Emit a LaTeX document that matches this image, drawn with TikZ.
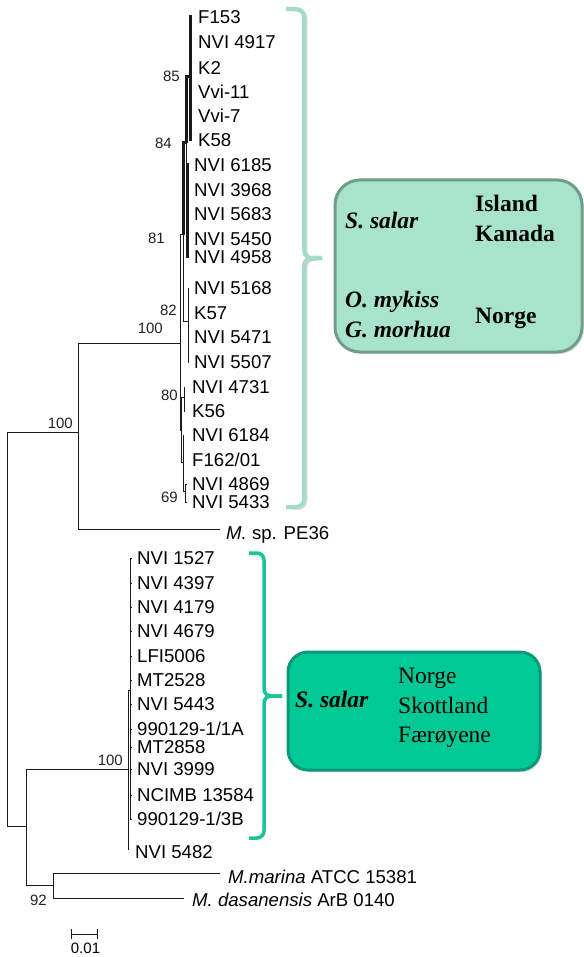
\documentclass[tikz,border=0pt]{standalone}
\usepackage{fontspec}
\setmainfont{Liberation Serif}
\newfontfamily\arialf{Liberation Sans}
\usetikzlibrary{shadows}
\definecolor{treeline}{HTML}{1A1A1A}
\definecolor{bstext}{HTML}{222222}
\definecolor{mintfill}{HTML}{A8E3CB}
\definecolor{mintdraw}{HTML}{6E9E88}
\definecolor{mintbr}{HTML}{A3DCC5}
\definecolor{tealfill}{HTML}{00C996}
\definecolor{tealdraw}{HTML}{0E977A}
\definecolor{tealbr}{HTML}{17C597}
\begin{document}
\begin{tikzpicture}[x=1pt,y=-1pt,
  br/.style={draw=treeline,line width=1pt},
  thickbr/.style={draw=treeline,line width=3pt},
  leaf/.style={anchor=west,inner sep=0pt,font=\arialf\fontsize{18.6}{20}\selectfont,text height=13.3pt,text depth=0pt},
  boot/.style={anchor=east,inner sep=0pt,text=bstext,font=\arialf\fontsize{15}{17}\selectfont,text height=10.7pt,text depth=0pt},
  boxtxt/.style={anchor=base west,inner sep=0pt,font=\fontsize{23.5}{28}\selectfont},
  bracketA/.style={draw=mintbr,line width=4pt,rounded corners=8pt},
  bracketB/.style={draw=tealbr,line width=3.5pt,rounded corners=7pt},
  brshadow/.style={draw=black,opacity=0.15,line width=4pt,rounded corners=8pt},
  boxA/.style={draw=mintdraw,fill=mintfill,line width=3pt,rounded corners=25pt,
     drop shadow={opacity=0.25,shadow xshift=2pt,shadow yshift=-2pt}},
  boxB/.style={draw=tealdraw,fill=tealfill,line width=3pt,rounded corners=20pt,
     drop shadow={opacity=0.25,shadow xshift=2pt,shadow yshift=-2pt}}
]
\useasboundingbox (0,0) rectangle (583,957);

% ---------- internal nodes ----------
\coordinate (root) at (7.5,629);
\coordinate (nA) at (78,432);
\coordinate (nB) at (26,826);
\coordinate (nTop) at (180,343);
\coordinate (tPE) at (220,529);
\coordinate (nBot) at (128,769);
\coordinate (n92) at (53,885);
\coordinate (tMar) at (220,873);
\coordinate (tDas) at (184,898);
\coordinate (n81) at (183,235);
\coordinate (n84) at (186.5,143);
\coordinate (n85) at (190.5,77);
\coordinate (nG) at (187.5,212);
\coordinate (n82) at (188,321);
\coordinate (nX) at (181,430);
\coordinate (n80) at (184,397);
\coordinate (nY) at (183,462);
\coordinate (n69) at (185.5,491);
\coordinate (nSub) at (130.5,690);

% ---------- backbone ----------
\draw[br] (root) |- (nA);
\draw[br] (root) |- (nB);
\draw[br] (nA) |- (nTop);
\draw[br] (nA) |- (tPE);
\draw[br] (nB) |- (nBot);
\draw[br] (nB) |- (n92);
\draw[br] (n92) |- (tMar);
\draw[br] (n92) |- (tDas);
\draw[br] (nTop) |- (n81);
\draw[br] (nTop) |- (nX);
\draw[thickbr] (n81) |- (n84);
\draw[br] (n81) |- (n82);
\draw[thickbr] (n84) |- (n85);
\draw[br] (n84) |- (nG);
\draw[br] (nX) |- (n80);
\draw[br] (nX) |- (nY);
\draw[br] (nY) |- (n69);
\draw[br] (nBot) |- (nSub);

% ---------- leaves ----------
\foreach \n/\y/\t in {a1/17/F153, a2/42/NVI 4917, a3/68/K2, a4/92/Vvi-11, a5/116/Vvi-7, a6/140/K58}{
  \coordinate (\n) at (191.5,\y);
  \draw[thickbr] (n85) |- (\n);
  \node[leaf] (L\n) at (198,\y) {\t};
}
\foreach \n/\y/\t in {b1/165/NVI 6185, b2/190/NVI 3968, b3/214/NVI 5683, b4/239/NVI 5450, b5/257/NVI 4958}{
  \coordinate (\n) at (188.5,\y);
  \draw[thickbr] (nG) |- (\n);
  \node[leaf] (L\n) at (194,\y) {\t};
}
\foreach \n/\y/\t in {c1/288/NVI 5168, c2/313/K57, c3/337/NVI 5471, c4/362/NVI 5507}{
  \coordinate (\n) at (189,\y);
  \draw[br] (n82) |- (\n);
  \node[leaf] (L\n) at (194,\y) {\t};
}
\foreach \n/\y/\t in {d1/387/NVI 4731, d2/411/K56}{
  \coordinate (\n) at (185,\y);
  \draw[br] (n80) |- (\n);
  \node[leaf] (L\n) at (192,\y) {\t};
}
\foreach \n/\y/\t in {e1/435/NVI 6184, e2/460/{F162/01}}{
  \coordinate (\n) at (184,\y);
  \draw[br] (nY) |- (\n);
  \node[leaf] (L\n) at (192,\y) {\t};
}
\foreach \n/\y/\t in {f1/484/NVI 4869, f2/502/NVI 5433}{
  \coordinate (\n) at (186.5,\y);
  \draw[br] (n69) |- (\n);
  \node[leaf] (L\n) at (192,\y) {\t};
}
\foreach \n/\y/\t in {g1/558/NVI 1527, g2/583/NVI 4397, g3/607/NVI 4179, g4/631/NVI 4679,
  g5/656/LFI5006, g6/680/MT2528, g7/704/NVI 5443, g8/729/{990129-1/1A}, g9/747/MT2858,
  g10/769/NVI 3999, g11/795/NCIMB 13584, g12/819/{990129-1/3B}}{
  \coordinate (\n) at (131.5,\y);
  \draw[br] (nSub) |- (\n);
  \node[leaf] (L\n) at (137,\y) {\t};
}
\coordinate (h1) at (129,849);
\draw[br] (nBot) |- (h1);
\node[leaf] (Lh1) at (135,852) {NVI 5482};

\node[leaf] (LPE) at (226,533) {\textit{M.} sp. PE36};
\node[leaf] (LMar) at (228,877) {\textit{M.marina} ATCC 15381};
\node[leaf] (LDas) at (192,900) {\textit{M. dasanensis} ArB 0140};

% ---------- bootstrap values ----------
\node[boot] (b85) at (180,76) {85};
\node[boot] (b84) at (172,143) {84};
\node[boot] (b81) at (165,238) {81};
\node[boot] (b82) at (177,310) {82};
\node[boot] (b100i) at (163,328) {100};
\node[boot] (b80) at (178,395) {80};
\node[boot] (b69) at (178,497) {69};
\node[boot] (b100o) at (73,423) {100};
\node[boot] (b100b) at (123,760) {100};
\node[boot] (b92) at (47,900) {92};

% ---------- scale bar ----------
\coordinate (sb1) at (71,934);
\coordinate (sb2) at (97,934);
\draw[br] (sb1) -- (sb2);
\draw[br] ([yshift=5pt]sb1) -- ([yshift=-5pt]sb1);
\draw[br] ([yshift=5pt]sb2) -- ([yshift=-5pt]sb2);
\node[inner sep=0pt,font=\arialf\fontsize{15}{17}\selectfont,text height=10.7pt,text depth=0pt] (sbl) at (85.5,948) {0.01};

% ---------- brackets ----------
\coordinate (ta) at (286,9);
\coordinate (tm) at (322,258);
\coordinate (tb) at (286,507);
\draw[brshadow,xshift=1.5pt,yshift=-1.5pt] (ta) -- (304,9) -- (304,258) -- (tm);
\draw[brshadow,xshift=1.5pt,yshift=-1.5pt] (tm) -- (304,258) -- (304,507) -- (tb);
\draw[bracketA] (ta) -- (304,9) -- (304,258) -- (tm);
\draw[bracketA] (tm) -- (304,258) -- (304,507) -- (tb);

\coordinate (ua) at (249,553);
\coordinate (um) at (282,696);
\coordinate (ub) at (249,838);
\draw[bracketB] (ua) -- (264,553) -- (264,696) -- (um);
\draw[bracketB] (um) -- (264,696) -- (264,838) -- (ub);

% ---------- boxes ----------
\node[boxA,minimum width=247pt,minimum height=172pt,inner sep=0pt] (BoxA) at (458.5,266) {};
\node[boxtxt] (ta1) at (345,229) {\bfseries\itshape S. salar};
\node[boxtxt] (ta2) at (475,212) {\bfseries Island};
\node[boxtxt] (ta3) at (475,242) {\bfseries Kanada};
\node[boxtxt] (ta4) at (345,307) {\bfseries\itshape O. mykiss};
\node[boxtxt] (ta5) at (345,337) {\bfseries\itshape G. morhua};
\node[boxtxt] (ta6) at (475,323) {\bfseries Norge};

\node[boxB,minimum width=252pt,minimum height=118pt,inner sep=0pt] (BoxB) at (414,711) {};
\node[boxtxt] (tb1) at (295,707) {\bfseries\itshape S. salar};
\node[boxtxt] (tb2) at (398,683) {Norge};
\node[boxtxt] (tb3) at (398,713) {Skottland};
\node[boxtxt] (tb4) at (398,742) {Færøyene};
\end{tikzpicture}
\end{document}
